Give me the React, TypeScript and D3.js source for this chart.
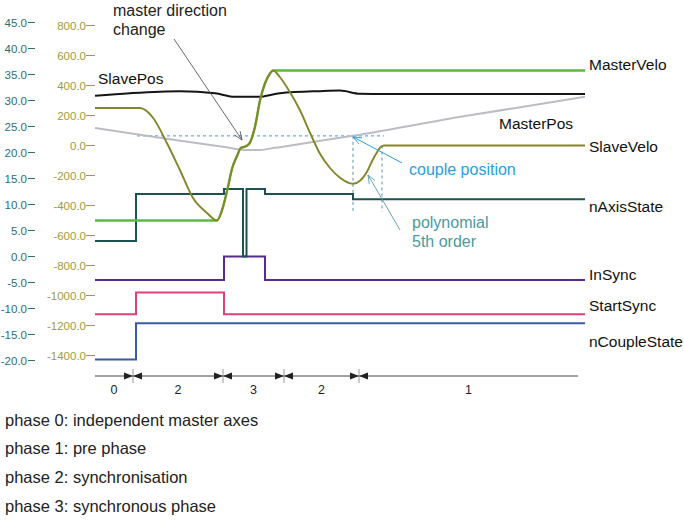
import React from 'react';
import * as d3 from 'd3';

// ---------- axis ticks ----------
const leftTicks = [45, 40, 35, 30, 25, 20, 15, 10, 5, 0, -5, -10, -15, -20];
const midTicks = [800, 600, 400, 200, 0, -200, -400, -600, -800, -1000, -1200, -1400];

// ---------- velocity curves (middle axis) ----------
const slaveVeloT = [0, 4.5, 5.8, 7.2, 8.5, 9.8, 11.2, 12.2, 12.8, 13.3, 13.7, 14.2, 14.6, 14.9, 15.4, 16.0, 16.5, 17.0, 17.5, 17.8, 18.5, 19.5, 20.5, 21.5, 22.5, 23.5, 24.5, 25.8, 26.5, 27.2, 27.7, 28.2, 28.5, 28.9, 49];
const slaveVeloV = [250, 250, 185, 15, -165, -350, -450, -500, -410, -275, -155, -70, -15, -10, 10, 125, 300, 415, 480, 500, 455, 355, 235, 85, -55, -150, -215, -255, -235, -175, -105, -45, -15, 0, 0];

const masterVeloT = [0, 12.2, 12.8, 13.3, 13.7, 14.2, 14.6, 14.9, 15.4, 16.0, 16.5, 17.0, 17.5, 17.8, 49];
const masterVeloV = [-500, -500, -410, -275, -155, -70, -15, -10, 10, 125, 300, 415, 480, 500, 500];

// ---------- position curves (left axis) ----------
const masterPosT = [0, 7, 13, 15, 16.5, 18, 21, 25.8, 37, 49];
const masterPosV = [24.7, 22.7, 21.05, 20.5, 20.5, 20.9, 21.8, 23.2, 27.0, 30.7];

const slavePosT = [0, 3.5, 8.5, 12, 14, 16.3, 18.5, 22.5, 24.5, 26.5, 29, 49];
const slavePosV = [30.9, 31.4, 31.8, 31.4, 30.7, 30.7, 31.4, 31.8, 31.9, 31.3, 31.25, 31.25];

// ---------- state signals (left axis, step) ----------
const nAxisStateT = [0, 4.1, 12.9, 14.8, 15.15, 17.0, 25.8, 49];
const nAxisStateV = [3, 12, 13, 0, 13, 12, 11, 11];
const inSyncT = [0, 12.9, 17.0, 49];
const inSyncV = [-4.5, 0, -4.5, -4.5];
const startSyncT = [0, 4.1, 12.9, 49];
const startSyncV = [-11.1, -6.9, -11.1, -11.1];
const nCoupleStateT = [0, 4.1, 49];
const nCoupleStateV = [-19.8, -12.85, -12.85];

// ---------- couple position annotation ----------
const coupleLineT = [4.2, 28.9];
const couplePos = 23.2;
const coupleT = 25.8;
const polyEndT = 28.7;

// ---------- phases ----------
const phaseBounds = [0, 3.8, 12.8, 18.9, 26.4, 48.3];
const phaseNames = ['0', '2', '3', '2', '1'];
const phaseDescriptions = [
  'phase 0: independent master axes',
  'phase 1: pre phase',
  'phase 2: synchronisation',
  'phase 3: synchronous phase',
];

const FONT = '"Liberation Sans", Arial, sans-serif';

function Arrow({ x1, y1, x2, y2, color, w = 0.9 }: any) {
  const a = Math.atan2(y2 - y1, x2 - x1);
  const L = 9, s = 0.38;
  const p1 = [x2 - L * Math.cos(a - s), y2 - L * Math.sin(a - s)];
  const p2 = [x2 - L * Math.cos(a + s), y2 - L * Math.sin(a + s)];
  return (
    <g stroke={color} strokeWidth={w} fill="none">
      <line x1={x1} y1={y1} x2={x2} y2={y2} />
      <path d={`M${p1[0]},${p1[1]}L${x2},${y2}L${p2[0]},${p2[1]}`} />
    </g>
  );
}

export default function App() {
  const W = 684, H = 521;
  const x = d3.scaleLinear().domain([0, 49]).range([95, 585]);
  const yL = d3.scaleLinear().domain([-20, 45]).range([360.5, 22.5]);
  const yM = d3.scaleLinear().domain([-1400, 800]).range([355.5, 25.5]);
  const zip = (ts: number[], vs: number[]) => ts.map((t, i) => [t, vs[i]] as [number, number]);

  const smoothL = d3.line<[number, number]>().x(d => x(d[0])).y(d => yL(d[1])).curve(d3.curveMonotoneX);
  const smoothM = d3.line<[number, number]>().x(d => x(d[0])).y(d => yM(d[1])).curve(d3.curveMonotoneX);
  const stepL = d3.line<[number, number]>().x(d => x(d[0])).y(d => yL(d[1])).curve(d3.curveStepAfter);

  const leftColor = '#2c6f6f';
  const midColor = '#9c9c3c';
  const rulerY = 376;

  const seriesLabel = (txt: string, lx: number, cy: number, color = '#111') => (
    <text x={lx} y={cy + 5.5} fontSize={15.5} fill={color} fontFamily={FONT}>{txt}</text>
  );

  const yCouple = yL(couplePos);
  const yBottomDash = 212;

  return (
    <svg width={W} height={H} style={{ position: 'absolute', left: 0, top: 0, background: '#fff' }}>
      <rect width={W} height={H} fill="#fff" />
      {/* left axis */}
      {leftTicks.map(v => (
        <g key={'l' + v}>
          <text x={27} y={yL(v) + 4} textAnchor="end" fontSize={11.5} fill={leftColor} fontFamily={FONT}>{v.toFixed(1)}</text>
          <line x1={28} x2={35} y1={yL(v)} y2={yL(v)} stroke={leftColor} strokeWidth={1} />
        </g>
      ))}
      {/* middle axis */}
      {midTicks.map(v => (
        <g key={'m' + v}>
          <text x={86} y={yM(v) + 4} textAnchor="end" fontSize={11.5} fill={midColor} fontFamily={FONT}>{v.toFixed(1)}</text>
          <line x1={86} x2={95} y1={yM(v)} y2={yM(v)} stroke={midColor} strokeWidth={1} />
        </g>
      ))}

      {/* couple position dashed lines */}
      <line x1={x(coupleLineT[0])} x2={x(coupleLineT[1])} y1={yCouple} y2={yCouple} stroke="#5ab4e8" strokeWidth={1.3} strokeDasharray="3,3" />
      <line x1={x(coupleT)} x2={x(coupleT)} y1={yCouple} y2={yBottomDash} stroke="#5a9aa4" strokeWidth={1} strokeDasharray="3,3" />
      <line x1={x(polyEndT)} x2={x(polyEndT)} y1={yM(0)} y2={yBottomDash} stroke="#5a9aa4" strokeWidth={1} strokeDasharray="3,3" />

      {/* positions */}
      <path d={smoothL(zip(masterPosT, masterPosV)) || ''} fill="none" stroke="#bcbcc4" strokeWidth={2} />
      <path d={smoothL(zip(slavePosT, slavePosV)) || ''} fill="none" stroke="#151515" strokeWidth={2} />

      {/* state signals */}
      <path d={stepL(zip(nCoupleStateT, nCoupleStateV)) || ''} fill="none" stroke="#3a5aa8" strokeWidth={2} />
      <path d={stepL(zip(startSyncT, startSyncV)) || ''} fill="none" stroke="#e0407a" strokeWidth={2} />
      <path d={stepL(zip(inSyncT, inSyncV)) || ''} fill="none" stroke="#5a2a90" strokeWidth={2} />
      <path d={stepL(zip(nAxisStateT, nAxisStateV)) || ''} fill="none" stroke="#1e5252" strokeWidth={2} />

      {/* velocities */}
      <path d={smoothM(zip(masterVeloT, masterVeloV)) || ''} fill="none" stroke="#5dbb3f" strokeWidth={2.4} />
      <path d={smoothM(zip(slaveVeloT, slaveVeloV)) || ''} fill="none" stroke="#85852a" strokeWidth={1.9} />

      {/* series labels */}
      {seriesLabel('SlavePos', 98, 78)}
      {seriesLabel('MasterVelo', 589, 64)}
      {seriesLabel('MasterPos', 499, 123)}
      {seriesLabel('SlaveVelo', 589, 146)}
      {seriesLabel('nAxisState', 589, 206)}
      {seriesLabel('InSync', 589, 274)}
      {seriesLabel('StartSync', 589, 305)}
      {seriesLabel('nCoupleState', 589, 341)}

      {/* annotations */}
      <text x={113} y={15.5} fontSize={16} fill="#222" fontFamily={FONT}>master direction</text>
      <text x={113} y={34.5} fontSize={16} fill="#222" fontFamily={FONT}>change</text>
      <Arrow x1={174} y1={39} x2={x(14.7)} y2={140} color="#444" w={0.8} />

      <text x={409} y={174.5} fontSize={16} fill="#2aa0e0" fontFamily={FONT}>couple position</text>
      <Arrow x1={402} y1={163} x2={x(coupleT)} y2={yCouple + 1} color="#2aa0e0" w={1} />

      <text x={412} y={227.5} fontSize={16} fill="#4a9aa0" fontFamily={FONT}>polynomial</text>
      <text x={412} y={246.5} fontSize={16} fill="#4a9aa0" fontFamily={FONT}>5th order</text>
      <Arrow x1={400} y1={230} x2={368} y2={175} color="#5a9aa4" w={0.9} />

      {/* phase ruler */}
      <line x1={x(phaseBounds[0])} x2={x(phaseBounds[phaseBounds.length - 1])} y1={rulerY} y2={rulerY} stroke="#444" strokeWidth={1} />
      {phaseBounds.slice(1, -1).map((b, i) => {
        const bx = x(b);
        return (
          <g key={'pb' + i}>
            <line x1={bx} x2={bx} y1={rulerY - 7} y2={rulerY + 7} stroke="#999" strokeWidth={1} />
            <path d={`M${bx - 9},${rulerY - 3.5}L${bx},${rulerY}L${bx - 9},${rulerY + 3.5}Z`} fill="#222" />
            <path d={`M${bx + 9},${rulerY - 3.5}L${bx},${rulerY}L${bx + 9},${rulerY + 3.5}Z`} fill="#222" />
          </g>
        );
      })}
      {phaseNames.map((p, i) => (
        <text key={'pn' + i} x={x((phaseBounds[i] + phaseBounds[i + 1]) / 2)} y={393.5} textAnchor="middle" fontSize={12.5} fill="#222" fontFamily={FONT}>{p}</text>
      ))}
      {phaseDescriptions.map((d, i) => (
        <text key={'pd' + i} x={5} y={425.5 + i * 28.8} fontSize={16.5} fill="#222" fontFamily={FONT}>{d}</text>
      ))}
    </svg>
  );
}
